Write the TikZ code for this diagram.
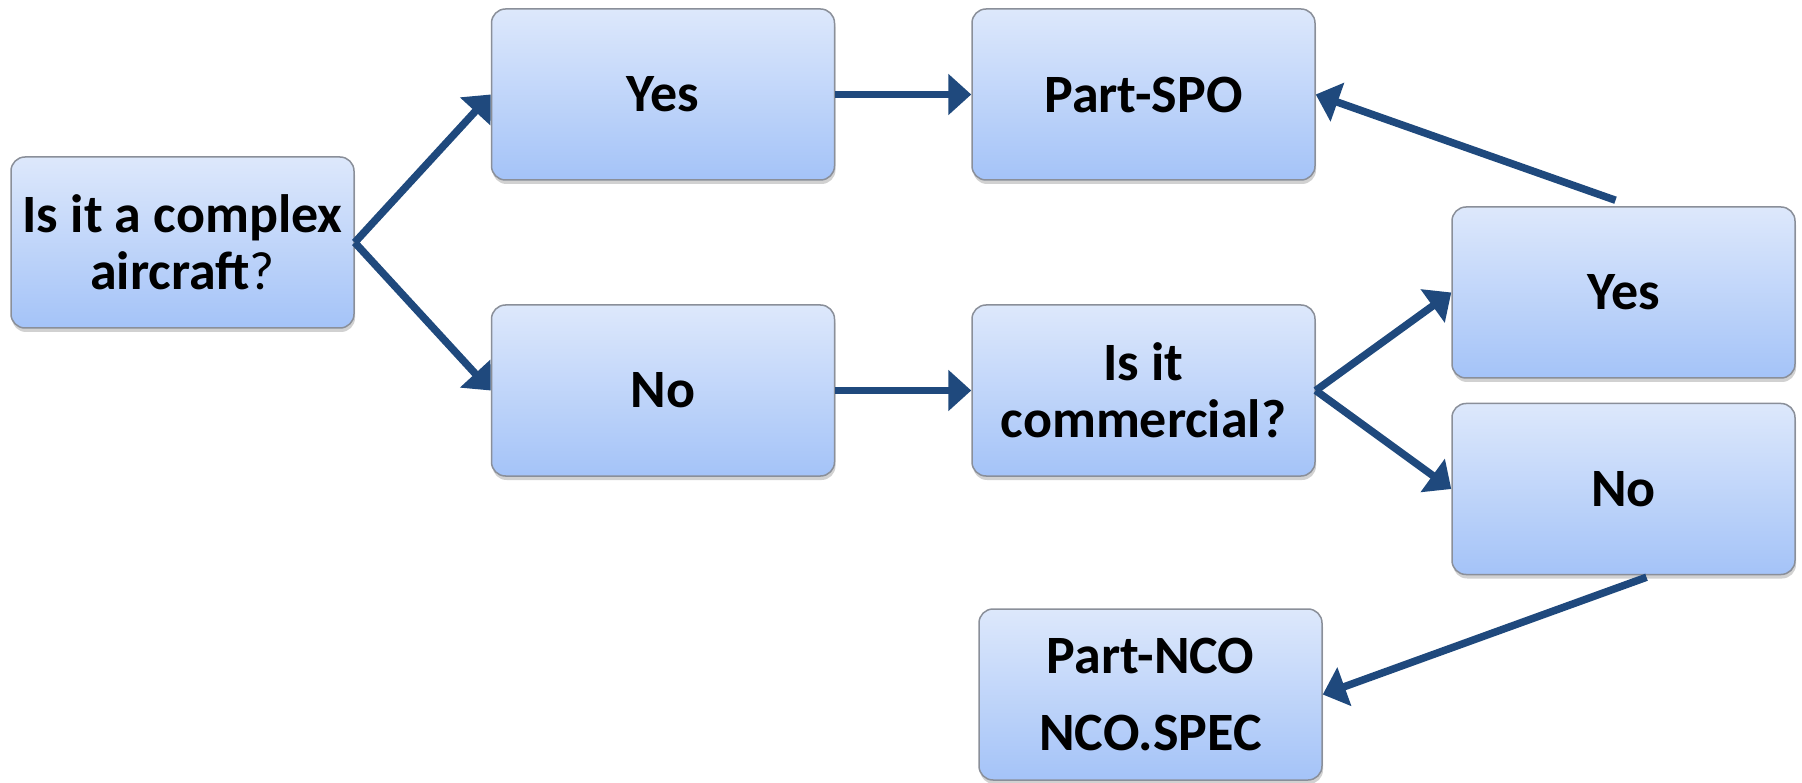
\documentclass[tikz,border=0pt]{standalone}
\usepackage{fontspec}
\setmainfont{Carlito}
\usetikzlibrary{arrows.meta,shadows}

\definecolor{arrowblue}{HTML}{1F497D}
\definecolor{boxtop}{HTML}{DDE8FB}
\definecolor{boxbot}{HTML}{A4C3F8}
\definecolor{boxline}{HTML}{8A8F99}

\tikzset{
  box/.style={draw=boxline, line width=1.5pt, rounded corners=14pt,
    top color=boxtop, bottom color=boxbot,
    minimum width=343pt, minimum height=171pt, align=center,
    font=\fontsize{54}{57}\selectfont\bfseries,
    drop shadow={shadow xshift=1pt, shadow yshift=-4pt, opacity=0.3, fill=black!60}},
  link/.style={draw=arrowblue, line width=7.5pt, -{Triangle[length=23pt,width=40pt]}}
}

\begin{document}
\begin{tikzpicture}[x=1pt,y=-1pt]
          \useasboundingbox (0,0) rectangle (1802,783);
          \node[box] (complex) at (182.5, 242.5) {Is it a complex \\ aircraft{\mdseries ?}};
          \node[box] (yesA) at (663, 94.5) {Yes};
          \node[box] (spo) at (1143.5, 94.5) {Part-SPO};
          \node[box] (noA) at (663, 390.5) {No};
          \node[box] (commercial) at (1143.5, 390.5) {Is it \\ commercial?};
          \node[box] (yesB) at (1623.5, 292.5) {Yes};
          \node[box] (noB) at (1623.5, 489) {No};
          \node[box] (nco) at (1150.5, 694.5) {Part-NCO \\[20pt] NCO.SPEC};
          %
          \draw[link] (complex.east) -- (yesA.west);
          \draw[link] (complex.east) -- (noA.west);
          \draw[link] (yesA.east) -- (spo.west);
          \draw[link] (noA.east) -- (commercial.west);
          \draw[link] (commercial.east) -- (yesB.west);
          \draw[link] (commercial.east) -- (noB.west);
          \draw[link] ([xshift=-8pt,yshift=6pt]yesB.north) -- (spo.east);
          \draw[link] ([xshift=23pt,yshift=-2pt]noB.south) -- (nco.east);
        \end{tikzpicture}
\end{document}
